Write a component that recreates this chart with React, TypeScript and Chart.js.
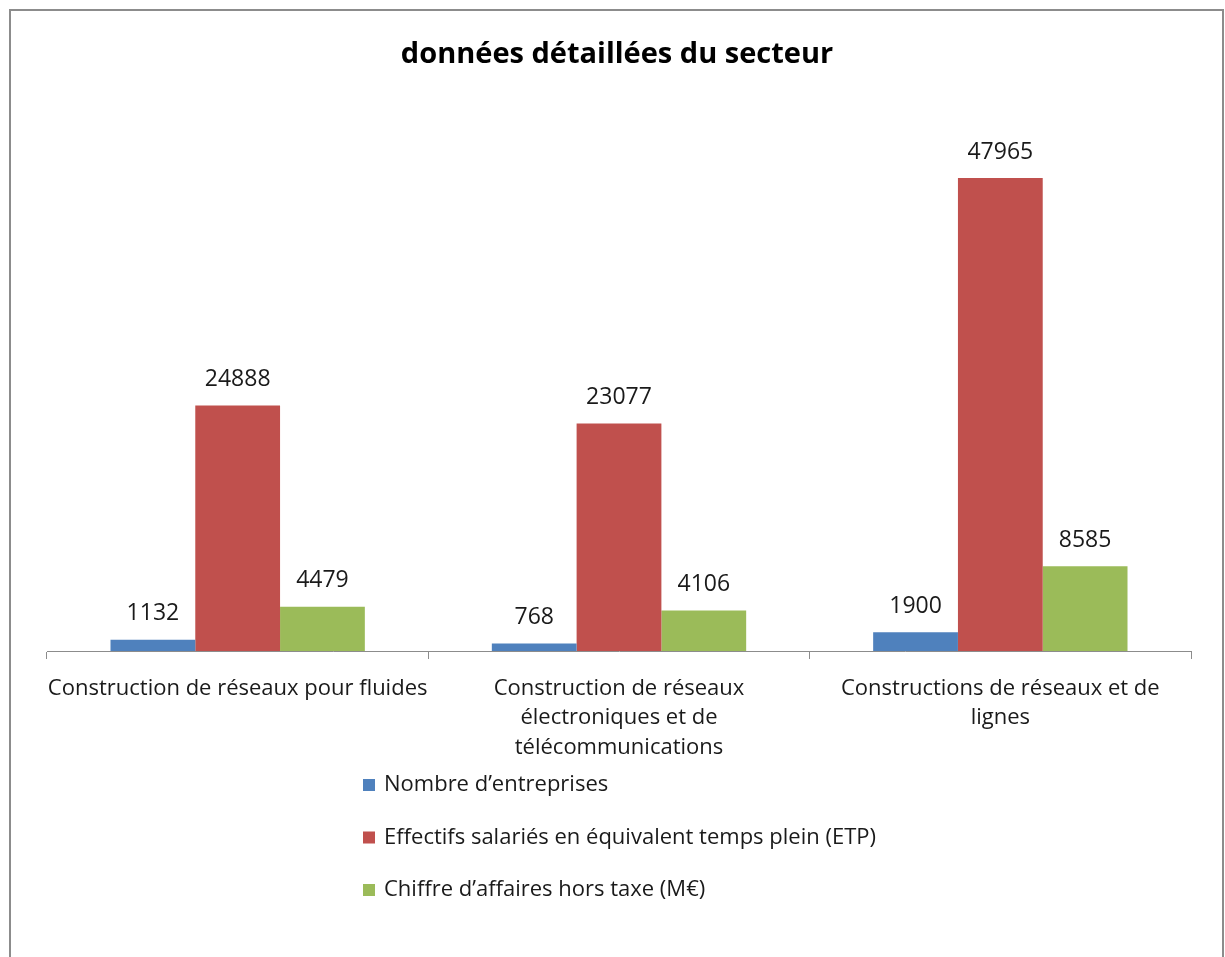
import React, { useEffect, useRef } from "react";
import { Chart, registerables } from "chart.js";

Chart.register(...registerables);

const titleText = "données détaillées du secteur";
const categories: string[][] = [
  ["Construction de réseaux pour fluides"],
  ["Construction de réseaux", "électroniques et de", "télécommunications"],
  ["Constructions de réseaux et de", "lignes"],
];
const seriesNames = [
  "Nombre d’entreprises",
  "Effectifs salariés en équivalent temps plein (ETP)",
  "Chiffre d’affaires hors taxe (M€)",
];
const nombreEntreprises = [1132, 768, 1900];
const effectifsETP = [24888, 23077, 47965];
const chiffreAffaires = [4479, 4106, 8585];
const seriesColors = ["#4F81BD", "#C0504D", "#9BBB59"];

const FONT = "'Open Sans', Lato, sans-serif";

const overlayPlugin = {
  id: "overlay",
  afterDatasetsDraw(chart: any) {
    const ctx = chart.ctx;
    ctx.save();
    ctx.fillStyle = "#1a1a1a";
    ctx.font = `23px ${FONT}`;
    ctx.textAlign = "center";
    ctx.textBaseline = "middle";
    chart.data.datasets.forEach((ds: any, i: number) => {
      const meta = chart.getDatasetMeta(i);
      meta.data.forEach((el: any, j: number) => {
        ctx.fillText(String(ds.data[j]), el.x, el.y - 26);
      });
    });
    ctx.restore();
  },
  afterDraw(chart: any) {
    const ctx = chart.ctx;
    ctx.save();
    // title
    ctx.fillStyle = "#000";
    ctx.font = `bold 29px ${FONT}`;
    ctx.textAlign = "center";
    ctx.textBaseline = "middle";
    ctx.fillText(titleText, 617, 55);
    // legend
    ctx.font = `22px ${FONT}`;
    ctx.textAlign = "left";
    chart.data.datasets.forEach((ds: any, i: number) => {
      const y = 785 + i * 52.5;
      ctx.fillStyle = ds.backgroundColor;
      ctx.fillRect(363, y - 6, 12, 12);
      ctx.fillStyle = "#1a1a1a";
      ctx.fillText(ds.label, 384, y);
    });
    ctx.restore();
  },
};

export default function App() {
  const ref = useRef<HTMLCanvasElement | null>(null);
  useEffect(() => {
    if (!ref.current) return;
    const values = [nombreEntreprises, effectifsETP, chiffreAffaires];
    const chart = new Chart(ref.current, {
      type: "bar",
      data: {
        labels: categories,
        datasets: seriesNames.map((name, i) => ({
          label: name,
          data: values[i],
          backgroundColor: seriesColors[i],
          borderWidth: 0,
          barPercentage: 1,
          categoryPercentage: 0.667,
        })),
      },
      options: {
        animation: false,
        responsive: false,
        devicePixelRatio: 1,
        layout: { padding: { left: 47, right: 34, top: 158, bottom: 186 } },
        plugins: {
          legend: { display: false },
          tooltip: { enabled: false },
          title: { display: false },
        },
        scales: {
          x: {
            afterFit: (s: any) => {
              s.height = 120;
            },
            grid: {
              display: true,
              drawOnChartArea: false,
              drawTicks: true,
              tickLength: 8,
              color: "#8c8c8c",
              offset: true,
            },
            border: { display: true, color: "#8c8c8c", width: 1 },
            ticks: {
              color: "#1a1a1a",
              padding: 15,
              maxRotation: 0,
              autoSkip: false,
              font: { family: FONT, size: 22, lineHeight: 1.34 },
            },
          },
          y: {
            display: false,
            min: 0,
            max: 50000,
          },
        },
      },
      plugins: [overlayPlugin],
    });
    return () => chart.destroy();
  }, []);
  return (
    <div style={{ position: "fixed", left: 0, top: 0, width: "100vw", height: "100vh", overflow: "hidden", background: "#fff" }}>
      <canvas ref={ref} width={1225} height={957} style={{ position: "absolute", left: 0, top: 0, width: 1225, height: 957 }} />
      <div style={{ position: "absolute", left: 9, top: 9, width: 1215, height: 1100, border: "2px solid #8c8c8c", boxSizing: "border-box", pointerEvents: "none" }} />
    </div>
  );
}
